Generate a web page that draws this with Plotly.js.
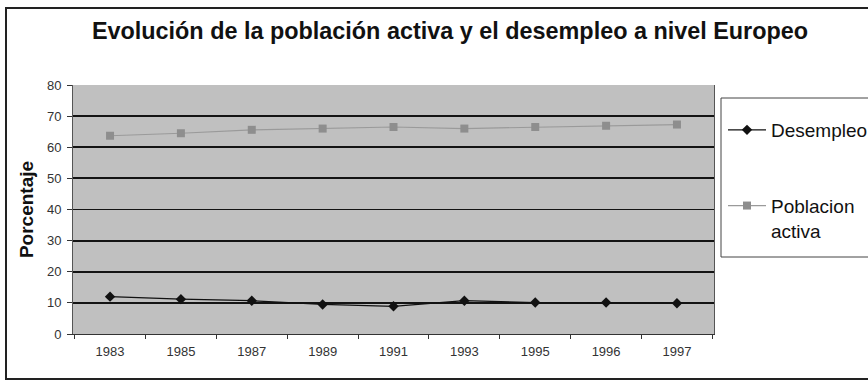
<!DOCTYPE html>
<html>
<head>
<meta charset="utf-8">
<script src="https://cdn.plot.ly/plotly-3.0.1.min.js"></script>
<style>
  html, body { margin: 0; padding: 0; background: #ffffff; }
  #chart { width: 868px; height: 382px; }
</style>
</head>
<body>
<div id="chart"></div>
<script>
// Years shown on the category axis
const years = ['1983', '1985', '1987', '1989', '1991', '1993', '1995', '1996', '1997'];

// Unemployment rate (%)
const desempleo = [12.0, 11.2, 10.7, 9.5, 8.9, 10.7, 10.1, 10.1, 9.9];

// Active population rate (%)
const poblacionActiva = [63.7, 64.5, 65.6, 66.0, 66.5, 66.0, 66.5, 66.9, 67.3];

const seriesNames = ['Desempleo', 'Poblacion<br>activa'];

const W = 868, H = 382;
const M = { l: 73, r: 154, t: 85, b: 48 };
const plotW = W - M.l - M.r, plotH = H - M.t - M.b;
// pixel -> paper helpers for frame decorations
const px = x => (x - M.l) / plotW;
const py = y => (H - M.b - y) / plotH;

const FONT = 'Liberation Sans, Arial, Helvetica, sans-serif';

const traces = [
  {
    x: years, y: desempleo, name: seriesNames[0], type: 'scatter', mode: 'lines+markers',
    line: { color: '#111111', width: 1.2 },
    marker: { symbol: 'diamond', size: 8, color: '#111111' },
    legendgroup: 'a'
  },
  {
    x: years, y: poblacionActiva, name: seriesNames[1], type: 'scatter', mode: 'lines+markers',
    line: { color: '#9a9a9a', width: 1.2 },
    marker: { symbol: 'square', size: 8, color: '#8e8e8e' },
    legendgroup: 'b'
  }
];

const layout = {
  width: W, height: H,
  margin: { l: M.l, r: M.r, t: M.t, b: M.b, pad: 0, autoexpand: false },
  paper_bgcolor: '#ffffff',
  plot_bgcolor: '#c0c0c0',
  font: { family: FONT, color: '#222222' },
  title: {
    text: 'Evolución de la población activa y el desempleo a nivel Europeo',
    font: { family: FONT, size: 23.4, color: '#111111', weight: 'bold' },
    xref: 'container', yref: 'container',
    x: 450 / W, y: 1 - 31 / H, xanchor: 'center', yanchor: 'middle'
  },
  xaxis: {
    type: 'category',
    tickson: 'boundaries',
    ticks: 'outside', ticklen: 4, tickcolor: '#333333',
    ticklabelstandoff: 5,
    showgrid: false,
    showline: true, linecolor: '#333333', linewidth: 1,
    tickfont: { size: 13, color: '#333333' },
    automargin: false, fixedrange: true
  },
  yaxis: {
    range: [0, 80], dtick: 10,
    ticks: 'outside', ticklen: 5, tickcolor: '#333333',
    ticklabelstandoff: 3,
    showgrid: true, gridcolor: '#141414', gridwidth: 1.8,
    zeroline: false,
    showline: true, linecolor: '#555555', linewidth: 1, mirror: true,
    tickfont: { size: 13, color: '#333333' },
    title: {
      text: 'Porcentaje',
      font: { family: FONT, size: 19, color: '#111111', weight: 'bold' },
      standoff: 8
    },
    automargin: false, fixedrange: true
  },
  showlegend: true,
  legend: {
    x: px(723), y: py(111), xanchor: 'left', yanchor: 'top',
    bgcolor: 'rgba(0,0,0,0)', borderwidth: 0,
    font: { family: FONT, size: 19, color: '#111111' },
    itemwidth: 38,
    valign: 'top', tracegroupgap: 48, traceorder: 'grouped'
  },
  shapes: [
    // outer frame of the figure
    { type: 'rect', xref: 'paper', yref: 'paper',
      x0: px(6), x1: px(872), y0: py(379), y1: py(8),
      line: { color: '#222222', width: 2 }, fillcolor: 'rgba(0,0,0,0)', layer: 'below' },
    // legend box
    { type: 'rect', xref: 'paper', yref: 'paper',
      x0: px(721), x1: px(880), y0: py(257), y1: py(98),
      line: { color: '#444444', width: 1 }, fillcolor: 'rgba(0,0,0,0)', layer: 'above' }
  ]
};

Plotly.newPlot('chart', traces, layout, { displayModeBar: false, staticPlot: true });
</script>
</body>
</html>
